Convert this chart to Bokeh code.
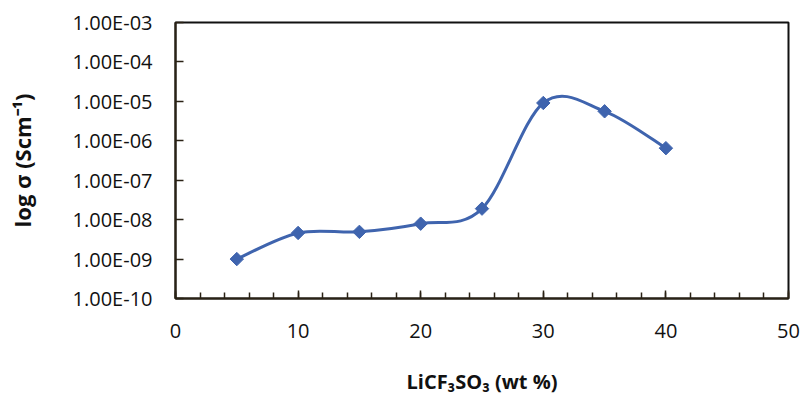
from bokeh.plotting import figure
from bokeh.models import FixedTicker, SingleIntervalTicker, CustomJSTickFormatter, Range1d
from bokeh.embed import file_html
from bokeh.resources import INLINE
import math

# data
wt_percent = [5, 10, 15, 20, 25, 30, 35, 40]
conductivity = [1.0e-9, 4.6e-9, 4.9e-9, 7.9e-9, 1.9e-8, 9.1e-6, 5.6e-6, 6.5e-7]
y_ticks = [1e-10, 1e-9, 1e-8, 1e-7, 1e-6, 1e-5, 1e-4, 1e-3]
x_ticks = [0, 10, 20, 30, 40, 50]

FONT = "Open Sans"
LINE = "#3f64ae"
AX = "#2a2215"

p = figure(width=802, height=397, output_backend="svg", toolbar_location=None,
           y_axis_type="log", x_range=Range1d(0, 50), y_range=Range1d(1e-10, 1e-3),
           min_border_left=175, min_border_right=14, min_border_top=22, min_border_bottom=98)
p.xgrid.visible = False
p.ygrid.visible = False
p.outline_line_color = "#111111"
p.outline_line_width = 2
p.background_fill_color = "white"
p.border_fill_color = "white"

# smooth (Excel-like) curve: cubic Bezier segments with Catmull-Rom control points,
# computed in x / log10(y) space so they map linearly on the log axis
lx = wt_percent
ly = [math.log10(v) for v in conductivity]
n = len(lx)
x0s, y0s, x1s, y1s, cx0s, cy0s, cx1s, cy1s = [], [], [], [], [], [], [], []
for i in range(n - 1):
    ip = max(i - 1, 0)
    inx = min(i + 2, n - 1)
    c0x = lx[i] + (lx[i + 1] - lx[ip]) / 6
    c0y = ly[i] + (ly[i + 1] - ly[ip]) / 6
    c1x = lx[i + 1] - (lx[inx] - lx[i]) / 6
    c1y = ly[i + 1] - (ly[inx] - ly[i]) / 6
    x0s.append(lx[i]); y0s.append(conductivity[i])
    x1s.append(lx[i + 1]); y1s.append(conductivity[i + 1])
    cx0s.append(c0x); cy0s.append(10 ** c0y)
    cx1s.append(c1x); cy1s.append(10 ** c1y)

p.bezier(x0=x0s, y0=y0s, x1=x1s, y1=y1s, cx0=cx0s, cy0=cy0s, cx1=cx1s, cy1=cy1s,
         line_color=LINE, line_width=3)
p.scatter(wt_percent, conductivity, marker="square", angle=math.pi / 4, size=9.5,
          fill_color=LINE, line_color=LINE, line_width=1)

# x axis
xa = p.xaxis[0]
xa.ticker = SingleIntervalTicker(interval=10, num_minor_ticks=5)
xa.axis_label = "LiCF₃SO₃ (wt %)"
xa.axis_label_text_font = FONT
xa.axis_label_text_font_style = "bold"
xa.axis_label_text_font_size = "20px"
xa.axis_label_text_color = "#111111"
xa.axis_label_standoff = 27
xa.major_label_text_font = FONT
xa.major_label_text_font_size = "20px"
xa.major_label_text_color = "#111111"
xa.major_label_standoff = 25
xa.major_tick_in = 8
xa.major_tick_out = 0
xa.minor_tick_in = 6
xa.minor_tick_out = 0
xa.axis_line_width = 2
xa.axis_line_color = AX
xa.major_tick_line_color = AX
xa.minor_tick_line_color = AX
xa.major_tick_line_width = 1.5
xa.minor_tick_line_width = 1.5

# y axis
ya = p.yaxis[0]
ya.ticker = FixedTicker(ticks=y_ticks, minor_ticks=[])
ya.formatter = CustomJSTickFormatter(code="""
const e = Math.round(Math.log10(tick));
const m = tick / Math.pow(10, e);
const s = (e < 0 ? '-' : '+') + String(Math.abs(e)).padStart(2, '0');
return m.toFixed(2) + 'E' + s;
""")
ya.axis_label = "log σ (Scm⁻¹)"
ya.axis_label_text_font = FONT
ya.axis_label_text_font_style = "bold"
ya.axis_label_text_font_size = "22px"
ya.axis_label_text_color = "#111111"
ya.axis_label_standoff = 33
ya.major_label_text_font = FONT
ya.major_label_text_font_size = "20px"
ya.major_label_text_color = "#111111"
ya.major_label_standoff = 23
ya.major_tick_in = 8
ya.major_tick_out = 0
ya.minor_tick_in = 0
ya.minor_tick_out = 0
ya.axis_line_width = 2
ya.axis_line_color = AX
ya.major_tick_line_color = AX
ya.major_tick_line_width = 1.5

open("out.html", "w").write(file_html(p, INLINE))
